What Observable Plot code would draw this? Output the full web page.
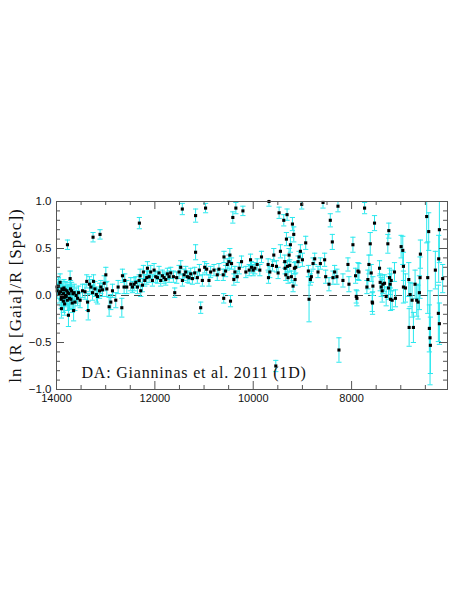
<!DOCTYPE html>
<html><head><meta charset="utf-8">
<script src="https://cdn.jsdelivr.net/npm/d3@7"></script>
<script src="https://cdn.jsdelivr.net/npm/@observablehq/plot@0.6"></script>
<style>html,body{margin:0;padding:0;background:#fff}</style>
</head><body><div id="chart"></div>
<script>
// Effective temperature (K)
const teff = [
13990,13985,13960,13945,13927,13920,13905,13900,13900,13890,13880,13870,13860,13856,13848,13842,13835,13822,13815,13802,
13777,13788,13780,13770,13757,13747,13735,13723,13715,13707,13693,13680,13665,13652,13640,13625,13600,13571,13551,13520,
13470,13420,13385,13368,13355,13330,13300,13267,13257,13247,13220,13190,13166,13125,13115,13098,13065,13030,12997,12977,
12930,12896,12862,12795,12747,12672,12659,12625,12612,12571,12490,12456,12422,12388,12354,12320,12315,12300,12287,12253,
12233,12205,12165,12151,12117,12084,12050,12016,11982,11948,11915,11881,11847,11813,11779,11745,11711,11678,11623,11596,
11556,11508,11474,11442,11440,11406,11373,11339,11305,11271,11237,11190,11172,11172,11136,11095,11068,11034,10987,10969,
10947,10900,10866,10798,10731,10697,10610,10600,10595,10562,10528,10494,10475,10462,10441,10415,10394,10373,10353,10326,
10285,10238,10210,10150,10082,10055,10035,10001,9967,9920,9866,9832,9697,9690,9680,9663,9609,9582,9541,9528,
9494,9474,9447,9379,9359,9352,9338,9325,9312,9305,9291,9271,9257,9244,9224,9203,9190,9176,9163,9149,
9136,9088,9068,9041,9014,9000,8933,8879,8865,8838,8818,8784,8750,8683,8635,8581,8548,8527,8460,8433,
8392,8379,8345,8298,8277,8257,8176,8074,8054,7973,7919,7905,7892,7871,7851,7736,7689,7669,7648,7621,
7601,7581,7574,7567,7534,7432,7419,7398,7378,7364,7330,7297,7263,7249,7243,7229,7216,7209,7195,7175,
7128,7108,6993,6959,6946,6946,6905,6837,6830,6810,6770,6743,6709,6676,6648,6621,6608,6601,6473,6452,
6432,6419,6405,6398,6297,6236,6229,6215,6215,6148
];
// ln(R_Gaia / R_Spec)
const lnr = [
0.09,0.05,0.10,0.02,0.14,0.04,-0.04,-0.02,-0.14,0.07,0.00,0.06,-0.06,0.02,0.08,-0.02,-0.09,0.06,0.00,-0.01,
0.54,0.05,-0.05,0.03,-0.21,0.02,-0.03,0.18,0.07,-0.04,0.05,-0.08,0.02,-0.16,0.03,-0.07,0.00,-0.03,0.03,-0.05,
0.05,0.04,0.15,-0.07,-0.16,0.12,0.09,0.03,0.62,0.15,0.07,0.01,-0.01,0.05,0.65,0.09,0.06,0.13,0.22,0.07,
-0.12,-0.07,0.05,-0.05,0.09,-0.13,0.21,0.09,0.16,0.09,0.12,0.09,0.12,0.14,0.09,0.16,0.77,0.21,0.05,0.11,
0.25,0.16,0.19,0.29,0.20,0.25,0.16,0.27,0.20,0.19,0.24,0.16,0.21,0.19,0.17,0.23,0.20,0.24,0.20,0.03,
0.19,0.25,0.30,0.92,0.16,0.22,0.25,0.20,0.19,0.23,0.18,0.24,0.85,0.46,0.19,0.27,-0.13,0.16,0.30,0.93,
0.28,0.16,0.25,0.27,0.22,0.28,0.22,-0.03,0.41,0.26,0.33,0.36,0.43,-0.06,0.34,0.83,0.17,0.25,0.93,0.20,
0.29,0.36,0.90,0.25,0.27,0.38,0.30,0.27,0.29,0.33,0.27,0.41,0.33,0.19,1.00,0.25,0.32,0.43,-0.75,0.31,
0.24,0.88,0.47,0.80,0.36,0.29,0.22,0.60,0.86,0.31,0.19,0.43,0.32,0.54,0.20,0.76,0.10,0.65,0.29,0.17,
0.30,0.36,0.41,0.47,0.97,0.38,0.56,0.26,-0.04,0.17,0.20,0.34,0.39,0.25,0.34,0.99,0.38,0.20,0.12,0.80,
0.57,0.19,0.25,0.20,0.95,-0.58,0.16,0.33,0.12,0.54,0.21,-0.01,-0.03,0.26,0.25,0.93,0.09,0.17,0.33,0.55,
0.24,-0.07,-0.08,0.10,0.77,0.29,0.14,0.09,0.05,0.12,0.13,-0.01,0.55,0.08,0.69,0.19,0.12,-0.04,0.16,-0.05,
0.25,-0.03,0.52,0.48,0.31,0.09,0.08,0.17,-0.34,0.01,-0.05,-0.34,0.12,-0.05,-0.07,0.03,0.19,0.44,0.84,0.19,
0.68,-0.35,-0.45,-0.53,0.27,-0.19,0.39,-0.30,0.70,0.18
];
// 1-sigma uncertainty
const err = [
0.08,0.08,0.09,0.10,0.09,0.08,0.10,0.09,0.10,0.08,0.10,0.09,0.12,0.08,0.09,0.10,0.12,0.09,0.10,0.09,
0.05,0.09,0.11,0.08,0.12,0.10,0.12,0.08,0.09,0.10,0.09,0.10,0.08,0.11,0.09,0.09,0.08,0.08,0.07,0.08,
0.07,0.08,0.07,0.09,0.10,0.08,0.08,0.08,0.05,0.07,0.08,0.08,0.08,0.08,0.05,0.07,0.07,0.08,0.08,0.08,
0.10,0.08,0.07,0.08,0.07,0.10,0.07,0.07,0.07,0.07,0.07,0.06,0.07,0.06,0.07,0.06,0.06,0.07,0.06,0.07,
0.07,0.06,0.07,0.07,0.06,0.07,0.06,0.07,0.06,0.06,0.07,0.06,0.06,0.06,0.06,0.06,0.06,0.06,0.06,0.05,
0.06,0.07,0.07,0.06,0.06,0.06,0.06,0.06,0.06,0.06,0.06,0.06,0.07,0.08,0.06,0.06,0.06,0.06,0.06,0.05,
0.06,0.06,0.06,0.06,0.06,0.06,0.06,0.05,0.06,0.06,0.06,0.07,0.07,0.06,0.06,0.06,0.06,0.06,0.06,0.06,
0.06,0.06,0.05,0.06,0.06,0.06,0.06,0.06,0.06,0.06,0.06,0.06,0.06,0.06,0.05,0.06,0.06,0.07,0.06,0.06,
0.06,0.06,0.07,0.06,0.07,0.06,0.06,0.07,0.06,0.06,0.06,0.07,0.06,0.08,0.06,0.07,0.06,0.08,0.06,0.06,
0.06,0.06,0.06,0.07,0.05,0.07,0.07,0.06,0.24,0.06,0.06,0.06,0.06,0.06,0.06,0.06,0.07,0.07,0.07,0.07,
0.08,0.07,0.07,0.08,0.06,0.13,0.07,0.07,0.08,0.08,0.08,0.07,0.08,0.09,0.09,0.06,0.07,0.10,0.10,0.12,
0.09,0.10,0.12,0.10,0.08,0.08,0.09,0.10,0.12,0.10,0.09,0.10,0.10,0.12,0.08,0.10,0.11,0.12,0.11,0.10,
0.10,0.09,0.12,0.15,0.15,0.17,0.15,0.18,0.20,0.13,0.18,0.16,0.15,0.17,0.18,0.18,0.22,0.15,0.28,0.38,
0.20,0.25,0.50,0.30,0.20,0.30,0.25,0.22,0.35,0.15
];
const xMajor = [14000, 12000, 10000, 8000];
const xMinor = [13500, 13000, 12500, 11500, 11000, 10500, 9500, 9000, 8500, 7500, 7000, 6500];
const yMajor = [-1, -0.5, 0, 0.5, 1];
const yMinor = [-0.9,-0.8,-0.7,-0.6,-0.4,-0.3,-0.2,-0.1,0.1,0.2,0.3,0.4,0.6,0.7,0.8,0.9];
const yLabel = "ln (R [Gaia]/R [Spec])";
const annotation = "DA: Gianninas et al. 2011 (1D)";

const data = teff.map((t, i) => ({t, v: lnr[i], e: err[i]}));
const caps = data.flatMap(d => [{t: d.t, v: d.v - d.e}, {t: d.t, v: d.v + d.e}]);

const W = 457, H = 609, mL = 56, mR = 10, mT = 201, mB = 220;
const fw = W - mL - mR, fh = H - mT - mB;
const cyan = "#2ae8ee";
const tickColor = "#555";
const capSymbol = {draw(ctx) { ctx.moveTo(-2.6, 0); ctx.lineTo(2.6, 0); }};
const sans = "'Liberation Sans', Arial, sans-serif";
const serif = "'Liberation Serif', 'Times New Roman', serif";

const chart = Plot.plot({
  width: W, height: H,
  marginLeft: mL, marginRight: mR, marginTop: mT, marginBottom: mB,
  x: {domain: [14000, 6050], axis: null},
  y: {domain: [-1, 1], axis: null},
  style: {background: "#fff", overflow: "visible"},
  marks: [
    Plot.ruleY([0], {stroke: "#444", strokeDasharray: "8,5", strokeWidth: 1}),
    Plot.ruleX(data, {x: "t", y1: d => d.v - d.e, y2: d => d.v + d.e, stroke: cyan, strokeWidth: 1, clip: true}),
    Plot.dot(caps, {x: "t", y: "v", symbol: capSymbol, stroke: cyan, strokeWidth: 1, fill: "none", clip: true}),
    Plot.dot(data, {x: "t", y: "v", symbol: "square", r: 1.75, fill: "#000", stroke: null}),
    // inward ticks on all four sides
    Plot.gridX({ticks: xMajor, stroke: tickColor, strokeOpacity: 1, insetTop: fh - 8}),
    Plot.gridX({ticks: xMajor, stroke: tickColor, strokeOpacity: 1, insetBottom: fh - 8}),
    Plot.gridX({ticks: xMinor, stroke: tickColor, strokeOpacity: 1, insetTop: fh - 4}),
    Plot.gridX({ticks: xMinor, stroke: tickColor, strokeOpacity: 1, insetBottom: fh - 4}),
    Plot.gridY({ticks: yMajor, stroke: tickColor, strokeOpacity: 1, insetRight: fw - 8}),
    Plot.gridY({ticks: yMajor, stroke: tickColor, strokeOpacity: 1, insetLeft: fw - 8}),
    Plot.gridY({ticks: yMinor, stroke: tickColor, strokeOpacity: 1, insetRight: fw - 4}),
    Plot.gridY({ticks: yMinor, stroke: tickColor, strokeOpacity: 1, insetLeft: fw - 4}),
    Plot.frame({stroke: "#555", strokeWidth: 1}),
    Plot.axisX({ticks: xMajor, tickSize: 0, tickPadding: 5, tickFormat: d => String(d), label: null,
      fontSize: 11, fontFamily: sans, fill: "#111"}),
    Plot.axisY({ticks: yMajor, tickSize: 0, tickPadding: 5, tickFormat: d3.format(".1f"), label: null,
      fontSize: 11.5, fontFamily: sans, fill: "#111"}),
    Plot.text([yLabel], {frameAnchor: "left", dx: -41, rotate: -90, textAnchor: "middle",
      fontSize: 17, fontFamily: serif, fill: "#111", className: "ylab"}),
    Plot.text([annotation], {frameAnchor: "bottom-left", dx: 25, dy: -12, textAnchor: "start", lineAnchor: "bottom",
      fontSize: 16, fontFamily: serif, fill: "#111", className: "annot"})
  ]
});
chart.querySelectorAll(".ylab text").forEach(t => t.setAttribute("letter-spacing", "1"));
chart.querySelectorAll(".annot text").forEach(t => t.setAttribute("letter-spacing", "0.8"));
document.getElementById("chart").appendChild(chart);
</script>
</body></html>
